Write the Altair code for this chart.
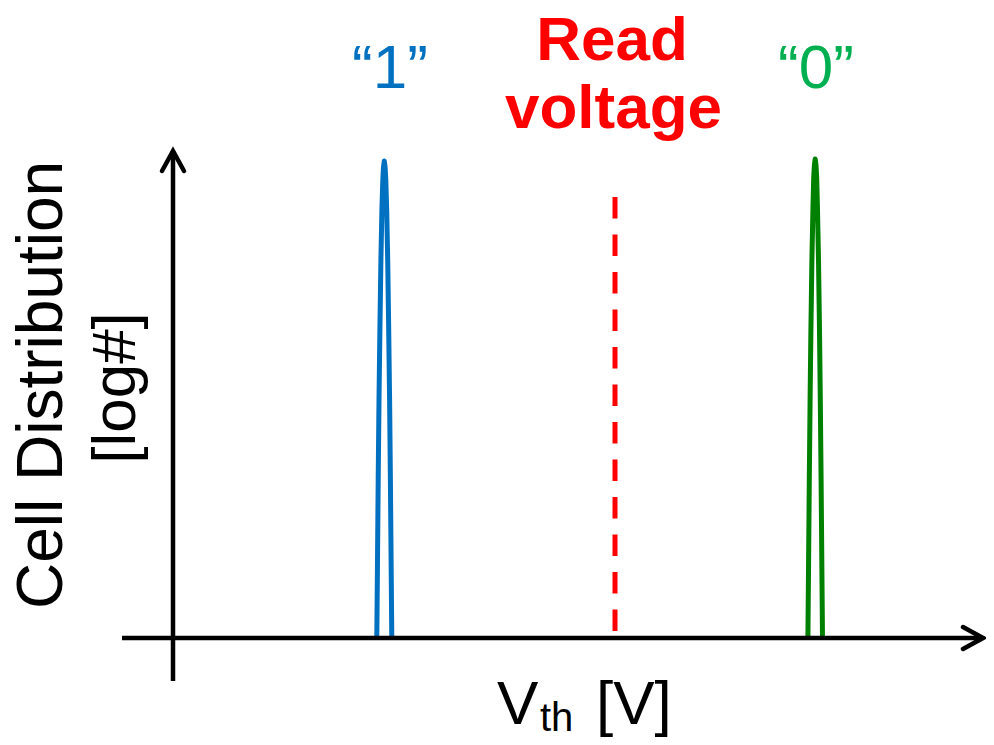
import altair as alt
import pandas as pd

# ---------------- data (x: Vth in arbitrary volts, y: log cell count) ----------------
# "1" state distribution (blue peak)
v_one = [2.018, 2.025, 2.032, 2.040, 2.049, 2.059, 2.069, 2.078, 2.085, 2.093,
         2.101, 2.108, 2.117, 2.127, 2.137, 2.146, 2.154, 2.161, 2.168]
n_one = [0.00, 0.78, 1.58, 2.38, 3.08, 3.78, 4.28, 4.58, 4.71, 4.77,
         4.71, 4.58, 4.28, 3.78, 3.08, 2.38, 1.58, 0.78, 0.00]
# "0" state distribution (green peak)
v_zero = [6.329, 6.336, 6.343, 6.351, 6.359, 6.369, 6.379, 6.387, 6.394, 6.402,
          6.410, 6.417, 6.425, 6.435, 6.445, 6.453, 6.461, 6.468, 6.475]
n_zero = [0.00, 0.78, 1.58, 2.38, 3.08, 3.78, 4.28, 4.60, 4.73, 4.79,
          4.73, 4.60, 4.28, 3.78, 3.08, 2.38, 1.58, 0.78, 0.00]
# read voltage (dashed line)
read_v = [4.40]
read_top = [4.41]
read_bottom = [0.07]

# axis extents
x_axis_start, x_axis_end = -0.53, 8.08
y_axis_bottom, y_axis_top = -0.43, 4.87

# plot domains
x_dom = [-1.67, 8.11]
y_dom = [-0.99, 6.30]

W, H = 978, 729
FONT = "Liberation Sans"

xs = alt.Scale(domain=x_dom, nice=False, zero=False)
ys = alt.Scale(domain=y_dom, nice=False, zero=False)

rows = []
for i, (v, n) in enumerate(zip(v_one, n_one)):
    rows.append({"state": "1", "i": i, "v": v, "n": n})
for i, (v, n) in enumerate(zip(v_zero, n_zero)):
    rows.append({"state": "0", "i": i, "v": v, "n": n})
peaks_df = pd.DataFrame(rows)

peaks = alt.Chart(peaks_df).mark_line(strokeWidth=5, strokeJoin="round", strokeCap="butt").encode(
    x=alt.X("v:Q", scale=xs, axis=None),
    y=alt.Y("n:Q", scale=ys, axis=None),
    color=alt.Color("state:N", scale=alt.Scale(domain=["1", "0"], range=["#0070C0", "#008000"]), legend=None),
    order="i:Q",
)

read_df = pd.DataFrame({"v": read_v, "top": read_top, "bottom": read_bottom})
read_line = alt.Chart(read_df).mark_rule(color="#FF0000", strokeWidth=5, strokeDash=[21.5, 16], strokeCap="butt").encode(
    x=alt.X("v:Q", scale=xs, axis=None),
    y=alt.Y("top:Q", scale=ys, axis=None),
    y2="bottom:Q",
)

# axes as rules
xaxis_df = pd.DataFrame({"x1": [x_axis_start], "x2": [x_axis_end], "y": [0.0]})
xaxis = alt.Chart(xaxis_df).mark_rule(color="black", strokeWidth=4.5).encode(
    x=alt.X("x1:Q", scale=xs, axis=None), x2="x2:Q", y=alt.Y("y:Q", scale=ys, axis=None)
)
yaxis_df = pd.DataFrame({"x": [-0.02], "y1": [y_axis_bottom], "y2": [y_axis_top]})
yaxis = alt.Chart(yaxis_df).mark_rule(color="black", strokeWidth=4.5).encode(
    x=alt.X("x:Q", scale=xs, axis=None), y=alt.Y("y1:Q", scale=ys, axis=None), y2="y2:Q"
)

chevron = "M-0.55,1L0,0L0.55,1"
arrows_df = pd.DataFrame({"x": [-0.02, x_axis_end], "y": [y_axis_top, 0.0], "ang": [0, 90]})
arrows = alt.Chart(arrows_df).mark_point(shape=chevron, filled=False, size=1600, strokeWidth=4.5,
                                         color="black", opacity=1, strokeJoin="miter", strokeCap="round").encode(
    x=alt.X("x:Q", scale=xs, axis=None),
    y=alt.Y("y:Q", scale=ys, axis=None),
    angle=alt.Angle("ang:Q", scale=None),
)


def label(text, x, y, size, color="black", bold=False, align="center", angle=0, baseline="alphabetic"):
    df = pd.DataFrame({"t": [text], "x": [x], "y": [y]})
    return alt.Chart(df).mark_text(
        font=FONT, fontSize=size, color=color, fontWeight="bold" if bold else "normal",
        align=align, baseline=baseline, angle=angle,
    ).encode(
        x=alt.X("x:Q", scale=xs, axis=None),
        y=alt.Y("y:Q", scale=ys, axis=None),
        text="t:N",
    )


labels = [
    label("\u201c1\u201d", 2.15, 5.50, 62, color="#0070C0"),
    label("\u201c0\u201d", 6.41, 5.50, 62, color="#00B050"),
    label("Read", 4.37, 5.78, 62, color="#FF0000", bold=True),
    label("voltage", 4.385, 5.10, 62, color="#FF0000", bold=True),
    label("V", 3.22, -0.86, 62, align="left"),
    label("th", 3.65, -0.93, 40, align="left"),
    label("[V]", 4.21, -0.86, 62, align="left"),
    label("Cell Distribution", -1.13, 2.53, 64, angle=270),
    label("[log#]", -0.40, 2.50, 62, angle=270),
]

chart = alt.layer(read_line, peaks, xaxis, yaxis, arrows, *labels).properties(
    width=W, height=H, padding=0, autosize=alt.AutoSizeParams(type="none"),
    background="white",
).configure_view(stroke=None)

chart.save("out.html", embed_options={"renderer": "svg", "actions": False})
